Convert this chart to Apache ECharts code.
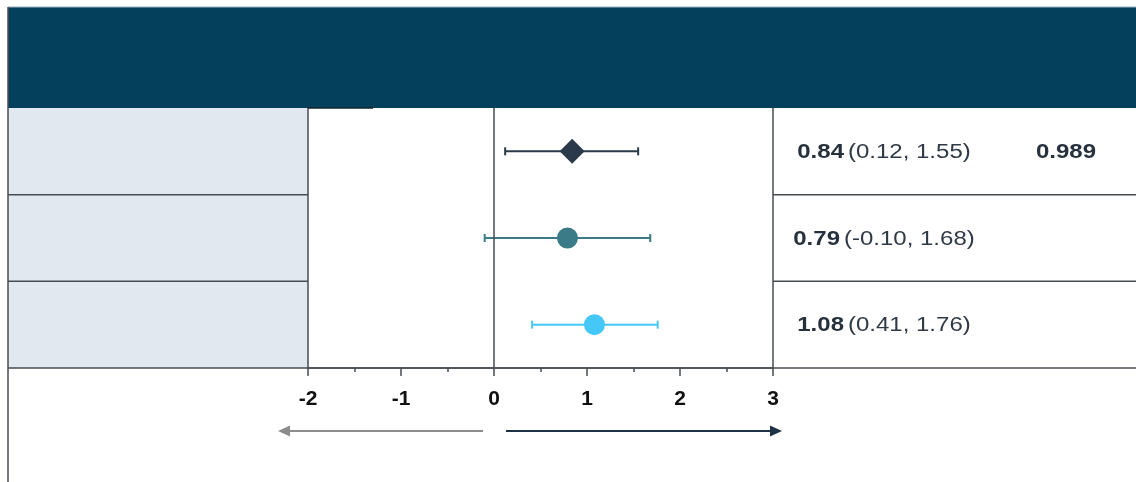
<!DOCTYPE html>
<html>
<head>
<meta charset="utf-8">
<script src="https://cdn.jsdelivr.net/npm/echarts@6/dist/echarts.min.js"></script>
<style>
  html, body { margin: 0; padding: 0; background: #ffffff; }
  #chart { width: 1136px; height: 482px; }
</style>
</head>
<body>
<div id="chart"></div>
<script>
// Forest plot rows: point estimate with 95% confidence interval
const rowKeys = ['overall', 'subgroupA', 'subgroupB'];
const estimates = [0.84, 0.79, 1.08];
const lowerCI = [0.12, -0.10, 0.41];
const upperCI = [1.55, 1.68, 1.76];
const pValues = ['0.989', '', ''];
const markerShapes = ['diamond', 'circle', 'circle'];
const markerColors = ['#2b3a4b', '#3a7b87', '#45c7f7'];
const xTickMin = -2;
const xTickMax = 3;

// Layout of the table around the plot panel
const GRID = { left: 308, right: 363, top: 108, bottom: 114 };
const TABLE_LEFT = 8;
const TABLE_RIGHT = 1136;
const HEADER_TOP = 7;
const EST_COL_OFFSET = 111;   // centre of the estimate column, from plot right edge
const P_COL_OFFSET = 293;     // centre of the p-value column
const LINE_COLOR = '#474c52';
const TEXT_COLOR = '#26313d';
const CELL_FONT = 'Liberation Sans, Arial, sans-serif';
const CELL_SIZE = 20;
const CELL_STRETCH = 1.2;

const chart = echarts.init(document.getElementById('chart'), null, { renderer: 'canvas' });

const errorData = rowKeys.map((k, i) => [lowerCI[i], upperCI[i], i]);
const pointData = rowKeys.map((k, i) => ({
  value: [estimates[i], i],
  symbol: markerShapes[i],
  symbolSize: markerShapes[i] === 'diamond' ? 25 : 21,
  itemStyle: { color: markerColors[i] }
}));
const textData = rowKeys.map((k, i) => [estimates[i], lowerCI[i], upperCI[i], i]);

function fmt(v) { return v.toFixed(2); }

const option = {
  animation: false,
  backgroundColor: '#ffffff',
  grid: { left: GRID.left, right: GRID.right, top: GRID.top, bottom: GRID.bottom, containLabel: false },
  xAxis: {
    type: 'value',
    min: xTickMin,
    max: xTickMax,
    interval: 1,
    axisLine: { show: true, onZero: false, lineStyle: { color: LINE_COLOR, width: 1.5 } },
    axisTick: { show: true, length: 8, lineStyle: { color: LINE_COLOR, width: 1.5 } },
    minorTick: { show: true, splitNumber: 2, length: 4, lineStyle: { color: LINE_COLOR, width: 1.5 } },
    splitLine: { show: false },
    axisLabel: {
      margin: 21,
      fontFamily: CELL_FONT,
      fontWeight: 'bold',
      fontSize: 21,
      color: '#111111'
    }
  },
  yAxis: {
    type: 'category',
    data: rowKeys,
    inverse: true,
    axisLine: { show: true, onZero: false, lineStyle: { color: LINE_COLOR, width: 1.5 } },
    axisTick: { show: false },
    axisLabel: { show: false },
    splitLine: { show: false }
  },
  graphic: [
    // header band
    { type: 'rect', z: 0, shape: { x: TABLE_LEFT, y: HEADER_TOP, width: TABLE_RIGHT - TABLE_LEFT, height: GRID.top - HEADER_TOP },
      style: { fill: '#04405c' } },
    { type: 'line', z: 1, shape: { x1: TABLE_LEFT, y1: HEADER_TOP, x2: TABLE_RIGHT, y2: HEADER_TOP },
      style: { stroke: '#9fb3c0', lineWidth: 1 } },
    { type: 'line', z: 1, shape: { x1: GRID.left, y1: GRID.top, x2: 373, y2: GRID.top },
      style: { stroke: '#14232c', lineWidth: 1.5 } },
    // shaded label column
    { type: 'rect', z: 0, shape: { x: TABLE_LEFT, y: GRID.top, width: GRID.left - TABLE_LEFT, height: 482 - GRID.bottom - GRID.top },
      style: { fill: '#e2e8f0' } },
    // outer left border
    { type: 'line', z: 2, shape: { x1: TABLE_LEFT, y1: HEADER_TOP, x2: TABLE_LEFT, y2: 482 },
      style: { stroke: LINE_COLOR, lineWidth: 1.5 } },
    // bottom rule across the whole table
    { type: 'line', z: 2, shape: { x1: TABLE_LEFT, y1: 482 - GRID.bottom, x2: TABLE_RIGHT, y2: 482 - GRID.bottom },
      style: { stroke: LINE_COLOR, lineWidth: 1.5 } },
    // direction arrows under the axis
    { type: 'line', z: 2, shape: { x1: 483, y1: 431, x2: 288, y2: 431 }, style: { stroke: '#8c8c8c', lineWidth: 2 } },
    { type: 'polygon', z: 2, shape: { points: [[278, 431], [290, 425.5], [290, 436.5]] }, style: { fill: '#8c8c8c' } },
    { type: 'line', z: 2, shape: { x1: 506, y1: 431, x2: 771, y2: 431 }, style: { stroke: '#1e3245', lineWidth: 2 } },
    { type: 'polygon', z: 2, shape: { points: [[782, 431], [770, 425.5], [770, 436.5]] }, style: { fill: '#1e3245' } }
  ],
  series: [
    {
      // confidence interval whiskers
      type: 'custom',
      z: 3,
      clip: false,
      data: errorData,
      encode: { x: [0, 1], y: 2 },
      renderItem: function (params, api) {
        const i = params.dataIndex;
        const p0 = api.coord([api.value(0), i]);
        const p1 = api.coord([api.value(1), i]);
        const color = markerColors[i];
        const cap = 4;
        const st = { stroke: color, lineWidth: 2 };
        return {
          type: 'group',
          children: [
            { type: 'line', shape: { x1: p0[0], y1: p0[1], x2: p1[0], y2: p1[1] }, style: st },
            { type: 'line', shape: { x1: p0[0], y1: p0[1] - cap, x2: p0[0], y2: p0[1] + cap }, style: st },
            { type: 'line', shape: { x1: p1[0], y1: p1[1] - cap, x2: p1[0], y2: p1[1] + cap }, style: st }
          ]
        };
      }
    },
    {
      // reference line at zero and right panel border
      type: 'line',
      data: [],
      markLine: {
        silent: true,
        symbol: ['none', 'none'],
        label: { show: false },
        lineStyle: { color: LINE_COLOR, width: 1.5, type: 'solid' },
        data: [{ xAxis: 0 }, { xAxis: xTickMax }]
      }
    },
    {
      // point estimates
      type: 'scatter',
      z: 4,
      data: pointData,
      itemStyle: { opacity: 1 }
    },
    {
      // table cells: estimate (CI), p-value, row rules
      type: 'custom',
      z: 3,
      clip: false,
      data: textData,
      encode: { x: 0, y: 3 },
      renderItem: function (params, api) {
        const i = params.dataIndex;
        const cs = params.coordSys;
        const cy = api.coord([0, i])[1];
        const band = cs.height / rowKeys.length;
        const right = cs.x + cs.width;
        const ex = right + EST_COL_OFFSET;
        const px = right + P_COL_OFFSET;
        const children = [
          {
            type: 'text',
            x: ex, y: cy + 1, scaleX: CELL_STRETCH,
            style: {
              x: 0, y: 0,
              align: 'center',
              verticalAlign: 'middle',
              text: '{b|' + fmt(api.value(0)) + '} {r|(' + fmt(api.value(1)) + ', ' + fmt(api.value(2)) + ')}',
              rich: {
                b: { fontFamily: CELL_FONT, fontWeight: 'bold', fontSize: CELL_SIZE, fill: TEXT_COLOR },
                r: { fontFamily: CELL_FONT, fontSize: CELL_SIZE, fill: '#2f3a46' }
              }
            }
          }
        ];
        if (pValues[i]) {
          children.push({
            type: 'text',
            x: px, y: cy + 1, scaleX: CELL_STRETCH,
            style: {
              x: 0, y: 0, align: 'center', verticalAlign: 'middle',
              text: pValues[i],
              fontFamily: CELL_FONT, fontWeight: 'bold', fontSize: CELL_SIZE,
              fill: TEXT_COLOR
            }
          });
        }
        if (i < rowKeys.length - 1) {
          const yb = cy + band / 2;
          const ls = { stroke: LINE_COLOR, lineWidth: 1.5 };
          children.push({ type: 'line', shape: { x1: TABLE_LEFT, y1: yb, x2: cs.x, y2: yb }, style: ls });
          children.push({ type: 'line', shape: { x1: right, y1: yb, x2: TABLE_RIGHT, y2: yb }, style: ls });
        }
        return { type: 'group', children: children };
      }
    }
  ]
};

chart.setOption(option);
</script>
</body>
</html>
